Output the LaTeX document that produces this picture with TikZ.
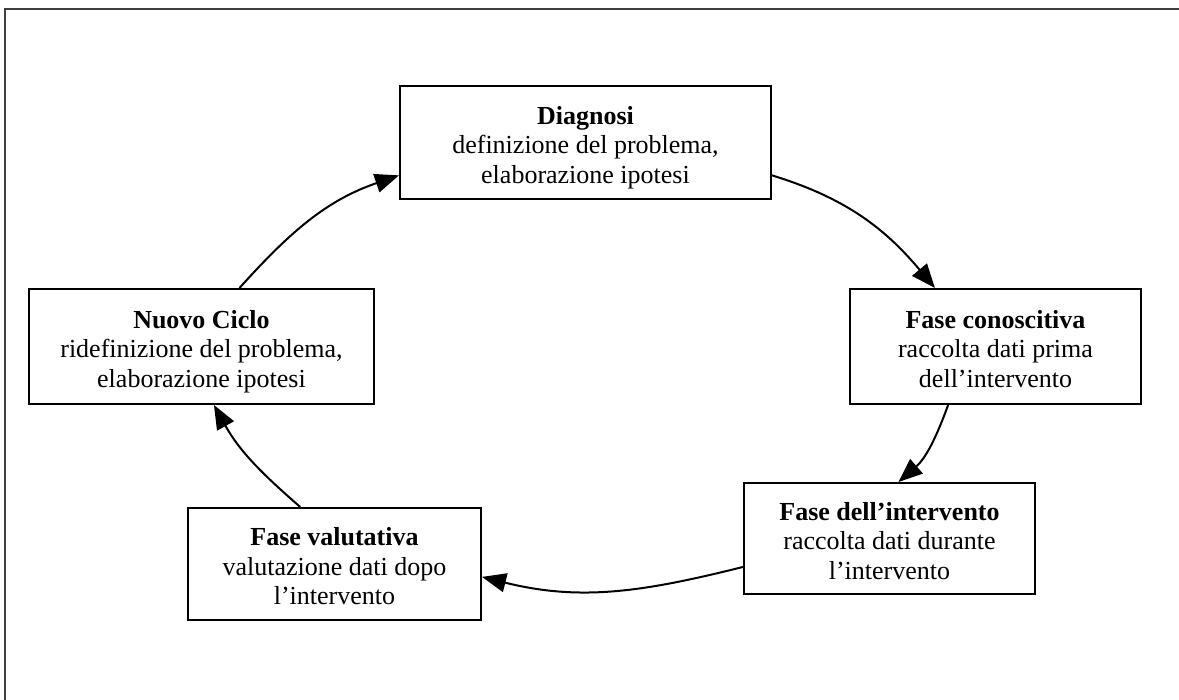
\documentclass[tikz,border=0pt]{standalone}
\usepackage{fontspec}
\setmainfont{Liberation Serif}
\usetikzlibrary{arrows.meta}
\definecolor{framegray}{RGB}{64,64,64}
\begin{document}
\begin{tikzpicture}[x=0.5pt,y=0.5pt,
  box/.style={draw=black, line width=1pt, align=center, inner sep=0pt,
    font=\fontsize{13}{14.75}\selectfont, text height=40.6pt, text depth=0pt},
  conn/.style={line width=1pt, -{Triangle[length=12pt,width=9.5pt]}}]
\useasboundingbox (0,0) rectangle (1179,700);
\draw[line width=1pt, framegray] (1179,691) -- (5,691) -- (5,0);

\node[box, minimum width=185.5pt, minimum height=56.5pt] (d) at (585.5,557.5)
  {\textbf{Diagnosi}\\definizione del problema,\\elaborazione ipotesi};
\node[box, minimum width=145.5pt, minimum height=57.5pt] (c) at (995.5,353.5)
  {\textbf{Fase conoscitiva}\\raccolta dati prima\\dell’intervento};
\node[box, minimum width=145.5pt, minimum height=55.5pt] (i) at (889.5,161.5)
  {\textbf{Fase dell’intervento}\\raccolta dati durante\\l’intervento};
\node[box, minimum width=146.5pt, minimum height=56pt] (v) at (334.5,136)
  {\textbf{Fase valutativa}\\valutazione dati dopo\\l’intervento};
\node[box, minimum width=172.5pt, minimum height=57.5pt] (n) at (201.5,353.5)
  {\textbf{Nuovo Ciclo}\\ridefinizione del problema,\\elaborazione ipotesi};

\draw[conn] (d.-10) to[out=-17, in=130] (c.136);
\draw[conn] (c.231) to[out=-110, in=41] (i.81);
\draw[conn] (i.191) to[out=194, in=-14] (v.-5);
\draw[conn] (v.121) to[out=139, in=-61] (n.-78);
\draw[conn] (n.57) to[out=48, in=199] (d.190);
\end{tikzpicture}
\end{document}
